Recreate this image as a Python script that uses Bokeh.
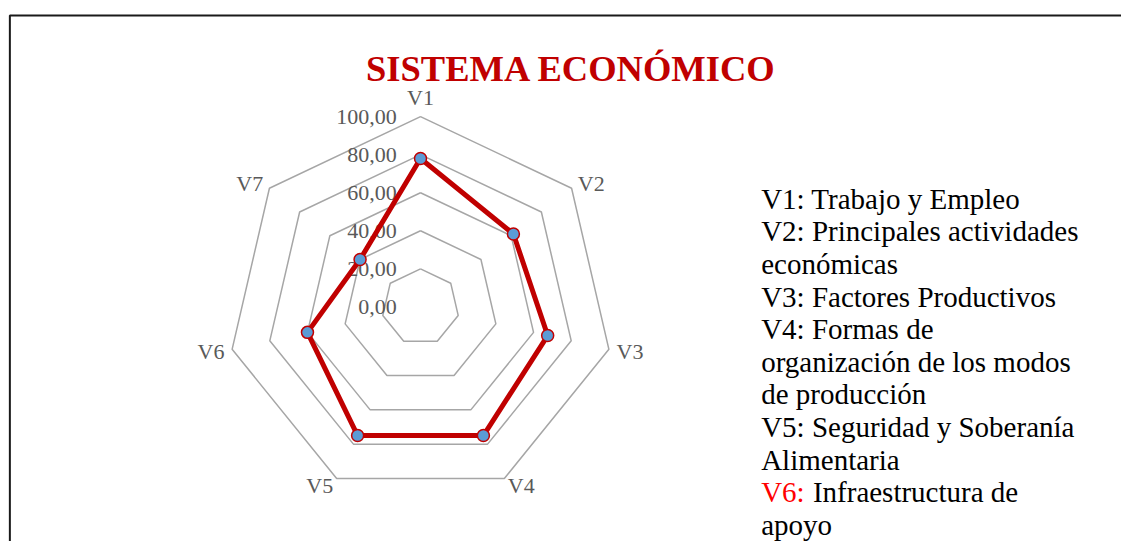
import math
from bokeh.plotting import figure
from bokeh.models import Range1d
from bokeh.core.properties import value
from bokeh.embed import file_html
from bokeh.resources import INLINE

# ---- data ----
categories = ["V1", "V2", "V3", "V4", "V5", "V6", "V7"]
scores = [78.0, 61.5, 67.5, 75.0, 75.0, 60.0, 40.0]
ring_levels = [20, 40, 60, 80, 100]
tick_values = [0, 20, 40, 60, 80, 100]
tick_labels = ["0,00", "20,00", "40,00", "60,00", "80,00", "100,00"]
title_text = "SISTEMA ECONÓMICO"
legend_lines = [
    ("", "V1: Trabajo y Empleo"),
    ("", "V2: Principales actividades"),
    ("", "económicas"),
    ("", "V3: Factores Productivos"),
    ("", "V4: Formas de"),
    ("", "organización de los modos"),
    ("", "de producción"),
    ("", "V5: Seguridad y Soberanía"),
    ("", "Alimentaria"),
    ("V6:", "Infraestructura de"),
    ("", "apoyo"),
]

# ---- layout: reference-image pixel space (1137 x 557) mapped onto the figure ----
W, H = 1121, 541
RW, RH = 1137.0, 557.0
KX = W / RW
CX, CY = 426.0, 315.5      # radar centre in reference pixels
S = 1.96                   # reference pixels per value unit
def X(px): return (px - CX) / S
def Y(py): return (CY - py) / S

FONT = value("Liberation Serif")
GREY_TXT = "#595959"

p = figure(width=W, height=H, output_backend="svg", toolbar_location=None,
           x_range=Range1d(X(0), X(RW)), y_range=Range1d(Y(RH), Y(0)),
           x_axis_type=None, y_axis_type=None, min_border=0,
           outline_line_color=None, background_fill_color="white",
           border_fill_color="white")
p.grid.visible = False

n = len(categories)
angles = [math.pi / 2 - 2 * math.pi * k / n for k in range(n)]

# frame (chart area border) – only left and top edges are inside the picture
p.line([X(9.5), X(9.5), X(1160)], [Y(600), Y(15.5), Y(15.5)], line_color="#1a1a1a", line_width=2)

# rings
for lv in ring_levels:
    xs = [lv * math.cos(a) for a in angles] + [lv * math.cos(angles[0])]
    ys = [lv * math.sin(a) for a in angles] + [lv * math.sin(angles[0])]
    p.line(xs, ys, line_color="#A6A6A6", line_width=1.5)

# tick labels along V1 axis
p.text(x=[X(402)] * len(tick_values), y=tick_values, text=tick_labels,
       text_align="right", text_baseline="middle",
       text_font=FONT, text_font_size="22px", text_color=GREY_TXT)

# category labels
R = 100
for a, t_ in zip(angles, categories):
    d = 8 + (12 if math.sin(a) > 0.99 else 0)
    x_ = X(CX + (R * S + d) * math.cos(a))
    y_ = Y(CY - (R * S + d) * math.sin(a))
    c = math.cos(a)
    al = "center" if abs(c) < 0.1 else ("left" if c > 0 else "right")
    p.text(x=[x_], y=[y_], text=[t_], text_align=al, text_baseline="middle",
           text_font=FONT, text_font_size="22px", text_color=GREY_TXT)

# data series
dx = [v * math.cos(a) for v, a in zip(scores, angles)]
dy = [v * math.sin(a) for v, a in zip(scores, angles)]
p.line(dx + [dx[0]], dy + [dy[0]], line_color="#C00000", line_width=5, line_join="round")
p.scatter(dx, dy, size=12, fill_color="#5B9BD5", line_color="#C00000", line_width=1.5)

# title
p.text(x=[X(579)], y=[Y(70)], text=[title_text], text_align="center",
       text_baseline="alphabetic", text_font=FONT, text_font_size="36.5px",
       text_font_style="bold", text_color="#C00000")

# legend text block
LX, LX2, B0, STEP = 771.5, 824.0, 204.0, 33.6
for i, (pre, txt) in enumerate(legend_lines):
    by = Y(B0 + STEP * i)
    if pre:
        p.text(x=[X(LX)], y=[by], text=[pre], text_align="left", text_baseline="alphabetic",
               text_font=FONT, text_font_size="29px", text_color="#FF0000")
        p.text(x=[X(LX2)], y=[by], text=[txt], text_align="left", text_baseline="alphabetic",
               text_font=FONT, text_font_size="29px", text_color="#000000")
    else:
        p.text(x=[X(LX)], y=[by], text=[txt], text_align="left", text_baseline="alphabetic",
               text_font=FONT, text_font_size="29px", text_color="#000000")

open("out.html", "w").write(file_html(p, INLINE))
